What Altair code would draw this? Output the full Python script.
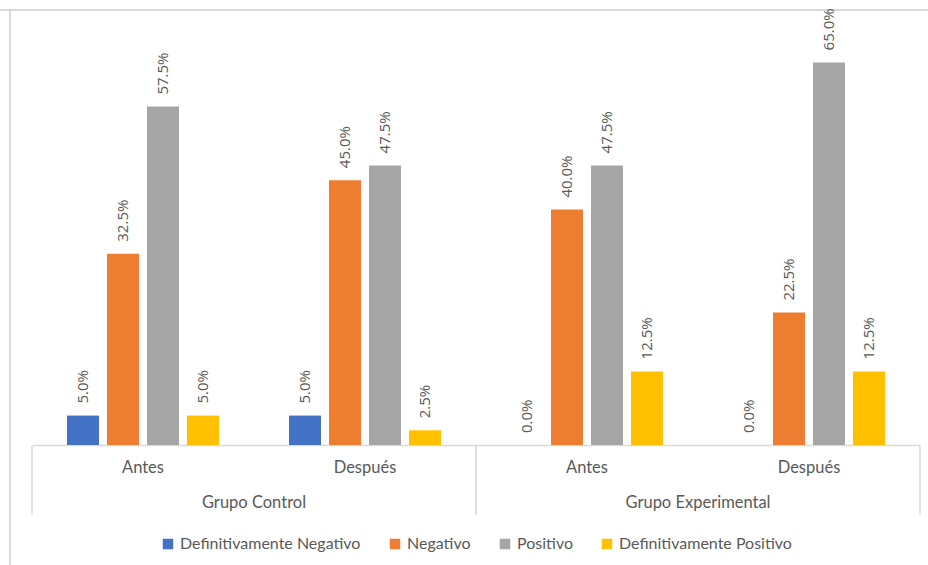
import altair as alt
import pandas as pd

# Categories (group | moment) and series
groups = ["Grupo Control", "Grupo Control", "Grupo Experimental", "Grupo Experimental"]
moments = ["Antes", "Después", "Antes", "Después"]
series = ["Definitivamente Negativo", "Negativo", "Positivo", "Definitivamente Positivo"]
colors = ["#4472C4", "#ED7D31", "#A5A5A5", "#FFC000"]

# Percentages per series, in category order
def_negativo = [0.05, 0.05, 0.0, 0.0]
negativo = [0.325, 0.45, 0.40, 0.225]
positivo = [0.575, 0.475, 0.475, 0.65]
def_positivo = [0.05, 0.025, 0.125, 0.125]

cats = [f"{g}|{m}" for g, m in zip(groups, moments)]
values_by_series = [def_negativo, negativo, positivo, def_positivo]

rows = []
for s, vals in zip(series, values_by_series):
    for c, v in zip(cats, vals):
        rows.append({"cat": c, "serie": s, "value": v})
df = pd.DataFrame(rows)

label_color = "#595959"
grid_color = "#D9D9D9"
font = "Open Sans"
axis_font = "Lato"

W, H = 888, 412

x_enc = alt.X("cat:N", sort=cats,
              scale=alt.Scale(domain=cats, paddingInner=0, paddingOuter=0),
              axis=alt.Axis(labels=False, ticks=False, title=None,
                            domainColor=grid_color, domainWidth=1.5, grid=False))
xoff = alt.XOffset("serie:N", sort=series,
                   scale=alt.Scale(domain=series, paddingInner=0.2, paddingOuter=0.875))
y_enc = alt.Y("value:Q", scale=alt.Scale(domain=[0, 0.7]), axis=None)

base = alt.Chart(df)

bars = base.mark_bar().encode(
    x=x_enc,
    xOffset=xoff,
    y=y_enc,
    color=alt.Color("serie:N", sort=series,
                    scale=alt.Scale(domain=series, range=colors),
                    legend=alt.Legend(orient="none", direction="horizontal", columns=4,
                                      legendX=128, legendY=503, title=None,
                                      symbolType="square", symbolSize=110,
                                      symbolStrokeWidth=0, labelFontSize=16,
                                      labelColor=label_color, labelFont=axis_font,
                                      labelLimit=400, columnPadding=26, labelOffset=4)),
)

labels = base.mark_text(angle=270, align="left", baseline="middle", dx=12,
                        fontSize=15, color=label_color, font=font).encode(
    x=x_enc,
    xOffset=xoff,
    y=y_enc,
    text=alt.Text("value:Q", format=".1%"),
)

# Lower axis: moment labels and group labels
moment_df = pd.DataFrame({"cat": cats, "moment": moments})
moment_text = alt.Chart(moment_df).mark_text(fontSize=16.5, color=label_color, font=axis_font,
                                             baseline="middle").encode(
    x=alt.X("cat:N", sort=cats),
    y=alt.value(435),
    text="moment:N",
)

group_df = pd.DataFrame({"cat": [cats[0], cats[2]], "grupo": [groups[0], groups[2]]})
group_text = alt.Chart(group_df).mark_text(fontSize=16.5, color=label_color, font=axis_font,
                                           baseline="middle").encode(
    x=alt.X("cat:N", sort=cats, bandPosition=1),
    y=alt.value(470),
    text="grupo:N",
)

# Separators between groups in the lower axis
sep_left = alt.Chart(group_df).mark_rule(color=grid_color, strokeWidth=1.5).encode(
    x=alt.X("cat:N", sort=cats, bandPosition=0),
    y=alt.value(413), y2=alt.value(482),
)
sep_right = alt.Chart(pd.DataFrame({"cat": [cats[-1]]})).mark_rule(
    color=grid_color, strokeWidth=1.5).encode(
    x=alt.X("cat:N", sort=cats, bandPosition=1),
    y=alt.value(413), y2=alt.value(482),
)

# Chart-area frame
one = pd.DataFrame({"k": [0]})
frame_top = alt.Chart(one).mark_rule(color=grid_color, strokeWidth=2).encode(
    x=alt.value(-32), x2=alt.value(W + 8), y=alt.value(-23))
frame_left = alt.Chart(one).mark_rule(color=grid_color, strokeWidth=2).encode(
    x=alt.value(-22), y=alt.value(-23), y2=alt.value(H + 120))

chart = alt.layer(
    frame_top, frame_left, bars, labels, moment_text, group_text, sep_left, sep_right
).properties(
    width=W, height=H,
    background="white",
    autosize=alt.AutoSizeParams(type="none"),
    padding={"left": 32, "top": 33, "right": 8, "bottom": 120},
).configure_view(strokeWidth=0)

chart.save("out.html", embed_options={"renderer": "svg", "actions": False})
